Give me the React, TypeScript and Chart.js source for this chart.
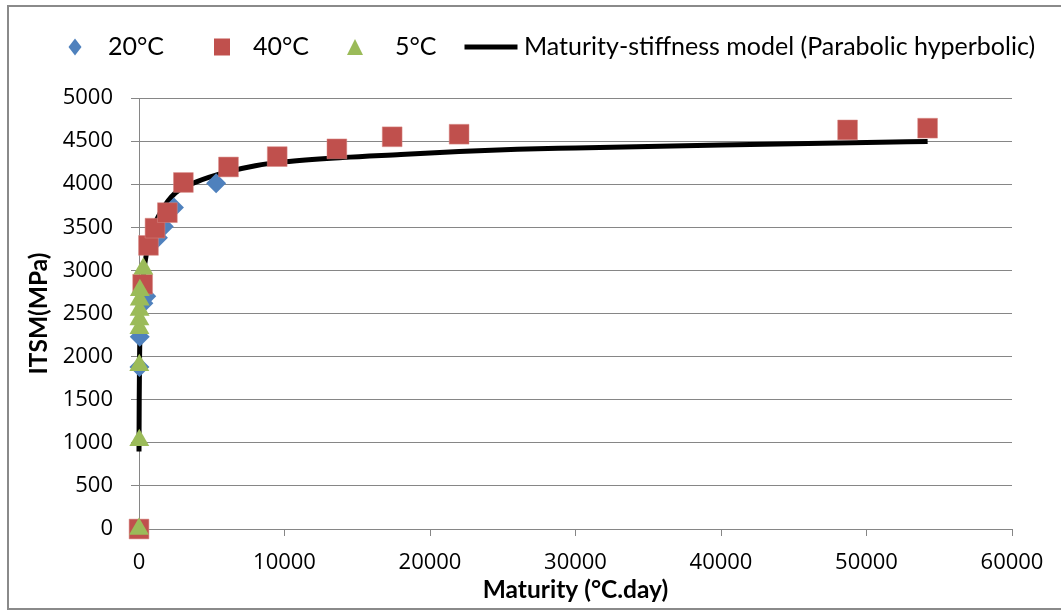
import React, { useEffect, useRef } from "react";
import { Chart, registerables } from "chart.js";

Chart.register(...registerables);

// ---- Data ----
const maturity20 = [30, 50, 300, 500, 1300, 1700, 2400, 5300];
const itsm20 = [1880, 2230, 2620, 2700, 3380, 3510, 3730, 4010];

const maturity40 = [0, 250, 650, 1100, 1950, 3050, 6150, 9500, 13600, 17400, 22000, 48700, 54200];
const itsm40 = [0, 2840, 3290, 3490, 3670, 4020, 4200, 4320, 4410, 4550, 4580, 4630, 4650];

const maturity5 = [0, 20, 20, 30, 30, 40, 50, 60, 300];
const itsm5 = [0, 1030, 1900, 2330, 2430, 2540, 2660, 2770, 3020];

const maturityModel = [0, 15, 40, 100, 200, 400, 700, 1000, 1500, 2500, 4000, 6000, 8000, 10000, 14000, 18000, 22000, 26000, 30000, 40000, 50000, 54200];
const itsmModel = [900, 1500, 2000, 2450, 2750, 3080, 3330, 3500, 3680, 3900, 4030, 4140, 4215, 4260, 4310, 4345, 4380, 4405, 4420, 4455, 4485, 4495];

const seriesNames = ["20°C", "40°C", "5°C", "Maturity-stiffness model (Parabolic hyperbolic)"];
const xTickValues = [0, 10000, 20000, 30000, 40000, 50000, 60000];
const yTickValues = [0, 500, 1000, 1500, 2000, 2500, 3000, 3500, 4000, 4500, 5000];

const BLUE = "#4F81BD";
const RED = "#C0504D";
const GREEN = "#9BBB59";
const FONT = "Lato";
const TICK_FONT = "'Open Sans'";

function toXY(xs: number[], ys: number[]) {
  return xs.map((x, i) => ({ x, y: ys[i] }));
}

// Legend drawn on the canvas (layout fixed to match the Excel-style legend row)
const legendLayout = [
  { kind: "diamond", color: BLUE, cx: 75, w: 13, h: 17, tx: 108 },
  { kind: "square", color: RED, cx: 222, w: 16, h: 17, tx: 253 },
  { kind: "triangle", color: GREEN, cx: 355, w: 16, h: 16, tx: 395 },
  { kind: "line", color: "#000000", cx: 491, w: 53, h: 5, tx: 524 },
];

const legendPlugin = {
  id: "excelLegend",
  afterDraw(chart: any) {
    const ctx: CanvasRenderingContext2D = chart.ctx;
    const cy = 47;
    ctx.save();
    legendLayout.forEach((it, i) => {
      ctx.fillStyle = it.color;
      ctx.beginPath();
      const l = it.cx - it.w / 2;
      const t = cy - it.h / 2;
      if (it.kind === "diamond") {
        ctx.moveTo(it.cx, t);
        ctx.lineTo(l + it.w, cy);
        ctx.lineTo(it.cx, t + it.h);
        ctx.lineTo(l, cy);
      } else if (it.kind === "triangle") {
        ctx.moveTo(it.cx, t);
        ctx.lineTo(l + it.w, t + it.h);
        ctx.lineTo(l, t + it.h);
      } else {
        ctx.rect(l, t, it.w, it.h);
      }
      ctx.closePath();
      ctx.fill();
      ctx.fillStyle = "#000000";
      ctx.font = `25px ${FONT}`;
      ctx.textAlign = "left";
      ctx.textBaseline = "middle";
      ctx.fillText(seriesNames[i], it.tx, cy);
    });
    ctx.restore();
  },
};

export default function App() {
  const ref = useRef<HTMLCanvasElement | null>(null);

  useEffect(() => {
    if (!ref.current) return;
    const chart = new Chart(ref.current, {
      type: "scatter",
      data: {
        datasets: [
          {
            label: seriesNames[0],
            data: toXY(maturity20, itsm20),
            pointStyle: "rectRot",
            pointRadius: 10,
            pointHoverRadius: 10,
            backgroundColor: BLUE,
            borderColor: BLUE,
            borderWidth: 0,
            showLine: false,
            clip: false,
            order: 2,
          },
          {
            label: seriesNames[1],
            data: toXY(maturity40, itsm40),
            pointStyle: "rect",
            pointRadius: 14,
            pointHoverRadius: 14,
            backgroundColor: RED,
            borderColor: "#D98A87",
            borderWidth: 0.5,
            showLine: false,
            clip: false,
            order: 1,
          },
          {
            label: seriesNames[2],
            data: toXY(maturity5, itsm5),
            pointStyle: "triangle",
            pointRadius: 11.5,
            pointHoverRadius: 11.5,
            backgroundColor: GREEN,
            borderColor: GREEN,
            borderWidth: 0,
            showLine: false,
            clip: false,
            order: 0,
          },
          {
            label: seriesNames[3],
            data: toXY(maturityModel, itsmModel),
            showLine: true,
            borderColor: "#000000",
            backgroundColor: "#000000",
            borderWidth: 5,
            pointRadius: 0,
            pointHoverRadius: 0,
            cubicInterpolationMode: "monotone",
            clip: false,
            order: 3,
          },
        ],
      },
      options: {
        animation: false,
        responsive: false,
        devicePixelRatio: 1,
        layout: { padding: { left: 24, right: 49, top: 98, bottom: 6 } },
        plugins: {
          tooltip: { enabled: false },
          legend: { display: false },
        },
        scales: {
          x: {
            type: "linear",
            min: 0,
            max: 60000,
            afterBuildTicks: (scale: any) => {
              scale.ticks = xTickValues.map((v) => ({ value: v }));
            },
            afterFit: (scale: any) => {
              scale.height = 611 - 529 - 6;
            },
            border: { display: true, color: "#868686", width: 1 },
            grid: { display: true, drawOnChartArea: false, drawTicks: true, tickLength: 7, color: "#868686" },
            ticks: {
              color: "#000000",
              font: { family: TICK_FONT, size: 22 },
              padding: 14,
              maxRotation: 0,
              callback: (v: any) => String(v),
            },
            title: {
              display: true,
              text: "Maturity (°C.day)",
              color: "#000000",
              font: { family: FONT, size: 24.5, weight: "bold" },
              padding: { top: 0, bottom: 0 },
            },
          },
          y: {
            type: "linear",
            min: 0,
            max: 5000,
            afterBuildTicks: (scale: any) => {
              scale.ticks = yTickValues.map((v) => ({ value: v }));
            },
            afterFit: (scale: any) => {
              scale.width = 139 - 24;
            },
            border: { display: true, color: "#868686", width: 1 },
            grid: { display: true, drawTicks: true, tickLength: 8, color: "#868686", lineWidth: 1 },
            ticks: { color: "#000000", font: { family: TICK_FONT, size: 22 }, padding: 18, callback: (v: any) => String(v) },
            title: {
              display: true,
              text: "ITSM(MPa)",
              color: "#000000",
              font: { family: FONT, size: 24.5, weight: "bold" },
              padding: { top: 0, bottom: 0 },
            },
          },
        },
      },
      plugins: [legendPlugin],
    });
    return () => chart.destroy();
  }, []);

  return (
    <div style={{ position: "absolute", left: 0, top: 0, width: 1061, height: 611, background: "#fff", overflow: "hidden" }}>
      <div
        style={{
          position: "absolute",
          left: 7,
          top: 5,
          width: 1070,
          height: 605,
          border: "2px solid #8a8a8a",
          boxSizing: "border-box",
        }}
      />
      <canvas ref={ref} width={1061} height={611} style={{ position: "absolute", left: 0, top: 0, width: 1061, height: 611 }} />
    </div>
  );
}
